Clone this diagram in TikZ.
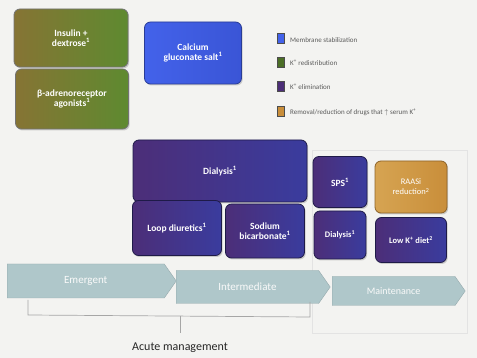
\documentclass[tikz,border=0pt]{standalone}
\usepackage{fontspec}
\setmainfont{Carlito}
\usetikzlibrary{shapes.symbols,shadows}
\definecolor{bgc}{HTML}{F3F3F1}
\definecolor{grnL}{HTML}{867434}
\definecolor{grnR}{HTML}{5E8A30}
\definecolor{bluL}{HTML}{4362EA}
\definecolor{bluR}{HTML}{3A55D6}
\definecolor{purL}{HTML}{4C2E78}
\definecolor{purR}{HTML}{3A3C9E}
\definecolor{purD}{HTML}{1E1A48}
\definecolor{orgL}{HTML}{D6A452}
\definecolor{orgR}{HTML}{C98E3A}
\definecolor{arr}{HTML}{AFC7CA}
\definecolor{legtxt}{HTML}{5A5A5A}
\tikzset{
  tbox/.style={rounded corners=6pt, draw=#1, line width=0.8pt, text=white,
    font=\bfseries\fontsize{9.5}{10.5}\selectfont, align=center, inner sep=0pt,
    drop shadow={shadow xshift=1.2pt, shadow yshift=-1.5pt, opacity=0.35}},
  greenbox/.style={tbox=black!55, left color=grnL, right color=grnR},
  bluebox/.style={tbox=bluR!70!black, left color=bluL, right color=bluR},
  purbox/.style={tbox=purD, left color=purL, right color=purR},
  orgbox/.style={tbox=orgR!70!black, left color=orgL, right color=orgR},
  phase/.style={shape=signal, signal to=east, signal from=nowhere, signal pointer angle=110, fill=arr,
    draw=arr!85!black, line width=0.4pt, text=white!96!gray, inner sep=0pt,
    font=\fontsize{11}{12}\selectfont, anchor=west},
  legsq/.style={draw=black!70, line width=0.5pt, minimum width=7pt, minimum height=10pt, inner sep=0pt},
  legtx/.style={anchor=west, text=legtxt, font=\fontsize{7}{8}\selectfont, inner sep=0pt},
  brk/.style={draw=gray!70, line width=0.7pt},
}
\begin{document}
\begin{tikzpicture}[x=1pt,y=-1pt]
\fill[bgc] (0,0) rectangle (477,358);
\useasboundingbox (0,0) rectangle (477,358);
% maintenance outline
\draw[gray!22, line width=0.8pt] (312,150) rectangle (467,333);
% top left boxes
\node[greenbox, minimum width=114pt, minimum height=58pt] (ins) at (71,38) {Insulin +\\dextrose\textsuperscript{1}};
\node[greenbox, minimum width=113pt, minimum height=60pt] (beta) at (72,99) {β-adrenoreceptor\\agonists\textsuperscript{1}};
\node[bluebox, minimum width=97pt, minimum height=62pt] (cal) at (193,53) {Calcium\\gluconate salt\textsuperscript{1}};
% legend
\node[legsq, fill=bluL] (l1) at (281,38) {};
\node[legtx] (t1) at (290,40) {Membrane stabilization};
\node[legsq, fill=grnR!80!black] (l2) at (281,62) {};
\node[legtx] (t2) at (290,63) {K\textsuperscript{+} redistribution};
\node[legsq, fill=purL] (l3) at (281,86) {};
\node[legtx] (t3) at (290,87) {K\textsuperscript{+} elimination};
\node[legsq, fill=orgR] (l4) at (281,111) {};
\node[legtx] (t4) at (290,112) {Removal/reduction of drugs that $\uparrow$ serum K\textsuperscript{+}};
% purple / orange boxes
\node[purbox, minimum width=174pt, minimum height=62pt] (dia1) at (220,171) {Dialysis\textsuperscript{1}};
\node[purbox, minimum width=54pt, minimum height=51pt] (sps) at (340,182) {SPS\textsuperscript{1}};
\node[orgbox, minimum width=72pt, minimum height=52pt, font=\fontsize{8.5}{10}\selectfont] (raas) at (411,187) {RAASi\\reduction\textsuperscript{2}};
\node[purbox, minimum width=89pt, minimum height=55pt] (loop) at (177,228) {Loop diuretics\textsuperscript{1}};
\node[purbox, minimum width=79pt, minimum height=54pt] (sod) at (265,231) {Sodium\\bicarbonate\textsuperscript{1}};
\node[purbox, minimum width=52pt, minimum height=48pt, font=\bfseries\fontsize{8.5}{10}\selectfont] (dia2) at (340,235) {Dialysis\textsuperscript{1}};
\node[purbox, minimum width=71pt, minimum height=45pt, font=\bfseries\fontsize{8.5}{10}\selectfont] (lowk) at (411,240) {Low K\textsuperscript{+} diet\textsuperscript{2}};
% phases
\node[phase, minimum width=169pt, minimum height=34pt] (em) at (7,281) {Emergent};
\node[phase, minimum width=154pt, minimum height=33pt] (int) at (176,287) {Intermediate};
\node[phase, minimum width=133pt, minimum height=29pt, font=\fontsize{10}{11}\selectfont] (mai) at (332,291) {Maintenance};
% bracket
\coordinate (bl1) at (28,300);
\coordinate (bl2) at (28,315);
\coordinate (br2) at (310,317);
\coordinate (br1) at (310,302);
\coordinate (bm1) at (180,316);
\coordinate (bm2) at (180,333);
\draw[brk] (bl1) -- (bl2) -- (br2) -- (br1);
\draw[brk] (bm1) -- (bm2);
\node[font=\fontsize{12}{13}\selectfont, text=black!85, inner sep=0pt] (acute) at (180,348) {Acute management};
\end{tikzpicture}
\end{document}
